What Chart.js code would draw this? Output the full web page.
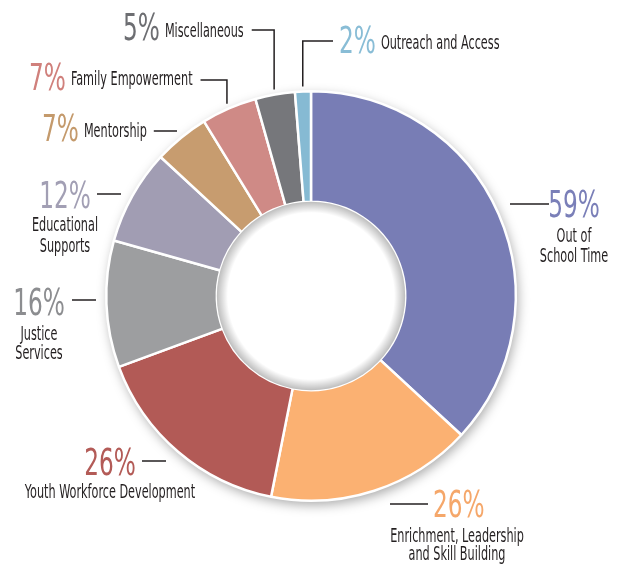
<!DOCTYPE html>
<html>
<head>
<meta charset="utf-8">
<script src="https://cdn.jsdelivr.net/npm/chart.js@4"></script>
<style>
  html, body { margin: 0; padding: 0; background: #fff; }
  canvas { display: block; }
</style>
</head>
<body>
<canvas id="chart" width="621" height="568"></canvas>
<script>
// program areas and their shares (as printed on the chart)
const categories = [
    "Out of School Time",
    "Enrichment, Leadership and Skill Building",
    "Youth Workforce Development",
    "Justice Services",
    "Educational Supports",
    "Mentorship",
    "Family Empowerment",
    "Miscellaneous",
    "Outreach and Access"
];
const shares = [59, 26, 26, 16, 12, 7, 7, 5, 2];

const sliceColors = ["#787db5", "#fbb172", "#b25a56", "#9d9ea0", "#a19db3", "#c79c6f", "#cf8a86", "#76777b", "#86bad3"];
const pctColors = ["#7a7fb8", "#f5a76a", "#b35b57", "#8c8d90", "#a29fb4", "#c49a6c", "#d0807c", "#6d6e72", "#89bdd6"];

const FONT = "'Liberation Sans Narrow', 'DejaVu Sans Condensed', sans-serif";
const PCT_FONT = "38px " + FONT;
const NAME_FONT = "20px " + FONT;
const PCT_SQUEEZE = 0.68;
const NAME_SQUEEZE = 0.625;
const INK = "#231f20";

// where each label sits around the ring
const labelLayout = [
    {lines: ["Out of", "School Time"], pct: [574, 217, "center"], name: [574, 242, "center"], gap: 20, lead: {kind: "h", x0: 510, x1: 549, y: 204}},
    {lines: ["Enrichment, Leadership", "and Skill Building"], pct: [433, 517, "left"], name: [457, 542, "center"], gap: 18, lead: {kind: "h", x0: 390, x1: 428, y: 504}},
    {lines: ["Youth Workforce Development"], pct: [110, 475, "center"], name: [110, 498, "center"], gap: 20, lead: {kind: "h", x0: 142, x1: 166, y: 461}},
    {lines: ["Justice", "Services"], pct: [39, 315, "center"], name: [39, 340, "center"], gap: 19, lead: {kind: "h", x0: 72, x1: 96, y: 300}},
    {lines: ["Educational", "Supports"], pct: [65, 208, "center"], name: [65, 231, "center"], gap: 21, lead: {kind: "h", x0: 97, x1: 121, y: 194}},
    {lines: ["Mentorship"], pct: [42, 141, "left"], name: [81, 137, "inline"], lead: {kind: "h", x0: "after", x1: 177, y: 131}},
    {lines: ["Family Empowerment"], pct: [29, 90, "left"], name: [70, 85, "inline"], lead: {kind: "elbow", x0: "after", y: 80}},
    {lines: ["Miscellaneous"], pct: [123, 40, "left"], name: [162, 37, "inline"], lead: {kind: "elbow", x0: "after", y: 30}},
    {lines: ["Outreach and Access"], pct: [339, 53, "left"], name: [379, 49, "inline"], lead: {kind: "elbow", x0: 333, y: 41}}
];

function squeezedText(ctx, text, x, y, align, font, squeeze, color) {
    ctx.save();
    ctx.font = font;
    ctx.fillStyle = color;
    ctx.textAlign = align;
    ctx.textBaseline = "alphabetic";
    let w = ctx.measureText(text).width * squeeze;
    ctx.translate(x, y);
    ctx.scale(squeeze, 1);
    ctx.fillText(text, 0, 0);
    ctx.restore();
    return w;
}

const ringShadow = {
    id: "ringShadow",
    beforeDatasetsDraw(chart) {
        const ctx = chart.ctx;
        const arc = chart.getDatasetMeta(0).data[0];
        ctx.save();
        ctx.shadowColor = "rgba(0,0,0,0.35)";
        ctx.shadowBlur = 12;
        ctx.shadowOffsetX = 2;
        ctx.shadowOffsetY = 4;
        ctx.beginPath();
        ctx.arc(arc.x, arc.y, arc.outerRadius, 0, Math.PI * 2);
        ctx.fillStyle = "#fff";
        ctx.fill();
        ctx.restore();
    },
    afterDatasetsDraw(chart) {
        // soft inset shade in the hole
        const ctx = chart.ctx;
        const arc = chart.getDatasetMeta(0).data[0];
        let r = arc.innerRadius;
        let grad = ctx.createRadialGradient(arc.x, arc.y, r - 11, arc.x, arc.y, r);
        grad.addColorStop(0, "rgba(0,0,0,0)");
        grad.addColorStop(1, "rgba(0,0,0,0.26)");
        ctx.save();
        ctx.beginPath();
        ctx.arc(arc.x, arc.y, r, 0, Math.PI * 2);
        ctx.fillStyle = grad;
        ctx.fill();
        ctx.restore();
    }
};

const outsideLabels = {
    id: "outsideLabels",
    afterDraw(chart) {
        const ctx = chart.ctx;
        const meta = chart.getDatasetMeta(0);
        labelLayout.forEach((lay, i) => {
            let arc = meta.data[i];
            let pctText = shares[i] + "%";
            let pctW = squeezedText(ctx, pctText, lay.pct[0], lay.pct[1], lay.pct[2], PCT_FONT, PCT_SQUEEZE, pctColors[i]);
            let textEnd;
            if (lay.name[2] === "inline") {
                let nx = lay.pct[0] + pctW + 5;
                let nw = squeezedText(ctx, lay.lines[0], nx, lay.name[1], "left", NAME_FONT, NAME_SQUEEZE, INK);
                textEnd = nx + nw;
            } else {
                lay.lines.forEach((line, k) => {
                    squeezedText(ctx, line, lay.name[0], lay.name[1] + k * lay.gap, lay.name[2], NAME_FONT, NAME_SQUEEZE, INK);
                });
            }

            ctx.save();
            ctx.strokeStyle = INK;
            ctx.lineWidth = 1.5;
            ctx.beginPath();
            let ld = lay.lead;
            if (ld.kind === "h") {
                let x0 = ld.x0 === "after" ? textEnd + 7 : ld.x0;
                ctx.moveTo(x0, ld.y);
                ctx.lineTo(ld.x1, ld.y);
            } else {
                // elbow: drop onto the middle of the slice
                let mid = (arc.startAngle + arc.endAngle) / 2;
                let rr = arc.outerRadius + 5;
                let sx = arc.x + rr * Math.cos(mid);
                let sy = arc.y + rr * Math.sin(mid);
                let x0 = ld.x0 === "after" ? textEnd + 8 : ld.x0;
                ctx.moveTo(x0, ld.y);
                ctx.lineTo(sx, ld.y);
                ctx.lineTo(sx, sy);
            }
            ctx.stroke();
            ctx.restore();
        });
    }
};

new Chart(document.getElementById("chart"), {
    type: "doughnut",
    data: {
        labels: categories,
        datasets: [{
            data: shares,
            backgroundColor: sliceColors,
            borderColor: "#ffffff",
            borderWidth: 2.5
        }]
    },
    options: {
        responsive: false,
        animation: false,
        cutout: "46%",
        layout: {
            padding: {top: 90, bottom: 66, left: 105, right: 104}
        },
        plugins: {
            legend: {display: false},
            tooltip: {enabled: false}
        }
    },
    plugins: [ringShadow, outsideLabels]
});
</script>
</body>
</html>
